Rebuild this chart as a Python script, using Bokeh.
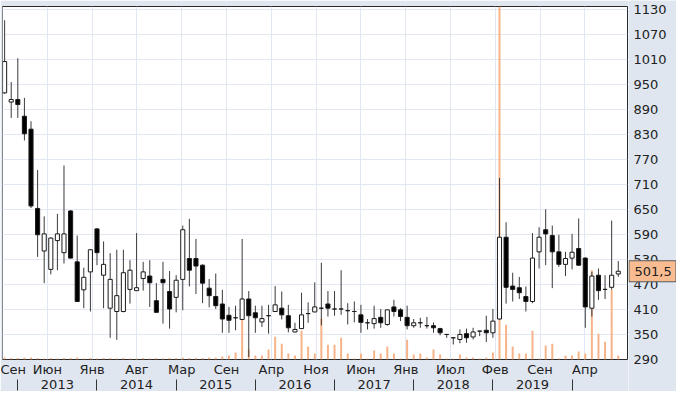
import numpy as np
import pandas as pd
from bokeh.plotting import figure
from bokeh.layouts import row
from bokeh.models import Range1d, LinearAxis, FixedTicker, ColumnDataSource, Grid
from bokeh.core.properties import value
from bokeh.embed import file_html
from bokeh.resources import INLINE

# ---------------- data (monthly candles) ----------------
MONTHS = [str(m) for m in pd.period_range("2012-11", periods=94, freq="M")]

OPEN = [929, 907, 913, 873, 842, 652, 550, 506, 575, 546,
        646, 524, 457, 500, 603, 492, 413, 405, 405, 458,
        455, 484, 490, 431, 482, 453, 439, 482, 532, 532,
        516, 461, 441, 423, 396, 390, 386, 435, 402, 380,
        395, 405, 413, 395, 356, 364, 400, 404, 413, 423,
        411, 411, 407, 405, 397, 378, 376, 391, 374, 416,
        409, 391, 371, 378, 371, 371, 364, 350, 342, 338,
        352, 344, 358, 360, 354, 387, 583, 466, 462, 441,
        429, 548, 601, 587, 548, 518, 533, 556, 533, 413,
        492, 458, 463, 495]
HIGH = [1103, 955, 1012, 917, 861, 744, 633, 583, 639, 755,
        648, 587, 510, 555, 605, 573, 545, 553, 553, 528,
        593, 524, 528, 473, 524, 502, 492, 611, 627, 579,
        518, 483, 496, 457, 416, 419, 579, 454, 419, 419,
        421, 466, 453, 421, 378, 450, 427, 475, 522, 454,
        454, 504, 425, 429, 421, 387, 419, 411, 410, 433,
        413, 419, 387, 390, 392, 379, 366, 351, 343, 362,
        364, 366, 359, 395, 411, 725, 619, 498, 488, 465,
        593, 607, 650, 611, 589, 548, 591, 628, 535, 500,
        508, 492, 623, 526]
LOW = [927, 869, 869, 815, 653, 536, 473, 494, 504, 520,
       532, 428, 413, 405, 516, 413, 342, 337, 403, 424,
       455, 455, 416, 402, 376, 364, 403, 408, 465, 447,
       425, 415, 411, 354, 354, 360, 385, 296, 354, 368,
       352, 404, 386, 355, 355, 363, 378, 403, 372, 393,
       395, 397, 374, 379, 354, 362, 364, 366, 371, 393,
       382, 362, 366, 366, 364, 354, 348, 342, 326, 329,
       330, 338, 346, 332, 342, 386, 424, 429, 435, 405,
       425, 508, 516, 461, 512, 490, 506, 515, 366, 393,
       433, 435, 457, 488]
CLOSE = [1004, 913, 901, 831, 658, 589, 591, 581, 591, 591,
         533, 429, 487, 553, 546, 518, 482, 443, 498, 504,
         462, 500, 474, 403, 474, 411, 480, 601, 504, 514,
         473, 443, 419, 387, 384, 390, 435, 395, 390, 388,
         395, 421, 397, 366, 362, 397, 400, 416, 413, 413,
         411, 411, 407, 405, 379, 378, 388, 378, 409, 405,
         393, 371, 378, 378, 371, 366, 354, 350, 342, 350,
         342, 356, 358, 354, 382, 583, 463, 458, 450, 429,
         533, 583, 591, 548, 518, 532, 547, 516, 416, 490,
         455, 458, 492, 501.5]
VOLUME = [20, 15, 15, 20, 20, 15, 10, 15, 10, 15,
          15, 20, 10, 15, 10, 15, 15, 10, 15, 10,
          10, 15, 10, 15, 10, 15, 15, 20, 15, 15,
          15, 20, 20, 30, 40, 70, 620, 100, 40, 40,
          100, 230, 160, 60, 40, 290, 130, 60, 410, 150,
          150, 220, 60, 10, 60, 10, 90, 60, 130, 60,
          10, 200, 50, 60, 20, 100, 50, 10, 10, 50,
          20, 20, 10, 20, 70, 3600, 350, 130, 60, 60,
          290, 10, 140, 160, 10, 40, 40, 80, 60, 900,
          260, 180, 700, 40]

MONTH_TICK_POS = [-0.30, 6.48, 13.27, 20.06, 26.85, 33.64, 40.42,
                  47.21, 54.0, 60.79, 67.58, 74.36, 81.15, 87.94]
MONTH_TICK_LABELS = ["Сен", "Июн", "Янв", "Авг", "Мар", "Сен", "Апр",
                     "Ноя", "Июн", "Янв", "Июл", "Фев", "Сен", "Апр"]
YEARS = [2013, 2014, 2015, 2016, 2017, 2018, 2019]
SEPARATOR_YEARS = [2013, 2014, 2015, 2016, 2017, 2018, 2019, 2020]
PRICE_TICKS = list(range(290, 1131, 60))
PRICE_TICK_LABELS = [str(t) for t in PRICE_TICKS]
LAST_PRICE_LABEL = "501,5"

# ---------------- layout constants ----------------
TOTAL_H = 391
TOP = 6
BOTTOM = 32
MAIN_W = 628
SIDE_W = 48
Y0, Y1 = 290, 1136
FRAME_H = TOTAL_H - TOP - BOTTOM

FONT = "DejaVu Sans"
TXT = "#222222"
BG = "#dfe6f0"
GRID = "#e2e8f2"

# ---------------- derived ----------------
x = np.arange(len(MONTHS))
o = np.array(OPEN, dtype=float)
c = np.array(CLOSE, dtype=float)
src = ColumnDataSource(dict(
    x=x, h=HIGH, l=LOW,
    top=np.maximum(o, c), bot=np.minimum(o, c),
    fill=np.where(c > o, "white", "black"),
    vol=VOLUME,
))
year_pos = [float(MONTHS.index(f"{y}-07")) for y in YEARS]
sep_pos = [float(MONTHS.index(f"{y}-01")) for y in SEPARATOR_YEARS]

# ---------------- main chart ----------------
p = figure(width=MAIN_W, height=TOTAL_H, output_backend="svg", toolbar_location=None,
           x_range=Range1d(-0.32, 94.4), y_range=Range1d(Y0, Y1),
           y_axis_location=None,
           min_border_left=2, min_border_top=TOP, min_border_right=1, min_border_bottom=BOTTOM)
p.background_fill_color = "white"
p.border_fill_color = BG
p.outline_line_color = "#2a2a2a"
p.outline_line_width = 1

p.extra_y_ranges = {"vol": Range1d(0, 3560)}

p.vbar(x="x", top="vol", bottom=0, width=0.3, y_range_name="vol",
       fill_color="#f7b388", line_color=None, source=src)
p.segment(x0="x", y0="l", x1="x", y1="h", line_color="#3a3a3a", line_width=1, source=src)
p.vbar(x="x", top="top", bottom="bot", width=0.62, fill_color="fill",
       line_color="#1a1a1a", line_width=1, source=src)

# month axis
xa = p.xaxis[0]
xa.ticker = FixedTicker(ticks=MONTH_TICK_POS)
xa.major_label_overrides = {pos: lab for pos, lab in zip(MONTH_TICK_POS, MONTH_TICK_LABELS)}
xa.axis_line_color = None
xa.major_tick_out = 0
xa.major_tick_in = 0
xa.minor_tick_out = 0
xa.minor_tick_in = 0
xa.major_label_standoff = 2
xa.major_label_text_font = FONT
xa.major_label_text_font_size = "13px"
xa.major_label_text_color = TXT

# year axis
yr = LinearAxis(ticker=FixedTicker(ticks=year_pos, minor_ticks=sep_pos))
yr.major_label_overrides = {pos: str(y) for pos, y in zip(year_pos, YEARS)}
yr.axis_line_color = None
yr.major_tick_out = 0
yr.major_tick_in = 0
yr.minor_tick_out = 11
yr.minor_tick_in = 0
yr.minor_tick_line_color = "#333333"
yr.major_label_standoff = -11
yr.major_label_text_font = FONT
yr.major_label_text_font_size = "13px"
yr.major_label_text_color = TXT
p.add_layout(yr, "below")

p.xgrid.ticker = FixedTicker(ticks=MONTH_TICK_POS)
p.xgrid.grid_line_color = GRID
if len(p.ygrid) == 0:
    p.add_layout(Grid(dimension=1, ticker=FixedTicker(ticks=PRICE_TICKS)), "center")
p.ygrid.ticker = FixedTicker(ticks=PRICE_TICKS)
p.ygrid.grid_line_color = GRID

# ---------------- right-hand price scale with last-price tag ----------------
can_unalign = "frame_align" in p.properties()
if can_unalign:
    ppu = FRAME_H / (Y1 - Y0)
    side_range = Range1d(Y0 - BOTTOM / ppu, Y1 + TOP / ppu)
else:
    side_range = p.y_range

s = figure(width=SIDE_W, height=TOTAL_H, output_backend="svg", toolbar_location=None,
           x_range=Range1d(0, SIDE_W), y_range=side_range,
           x_axis_location=None, y_axis_location=None,
           min_border_left=0, min_border_right=0, min_border_top=0, min_border_bottom=0)
if can_unalign:
    p.frame_align = False
    s.frame_align = False
s.background_fill_color = BG
s.border_fill_color = BG
s.outline_line_color = None
s.grid.visible = False

s.text(x=5, y=PRICE_TICKS, text=PRICE_TICK_LABELS, text_font=value(FONT),
       text_font_size="13px", text_color=TXT, text_baseline="middle", text_align="left")
s.rect(x=SIDE_W / 2, y=CLOSE[-1], width=SIDE_W - 1, height=21, height_units="screen",
       fill_color="#f8bc90", line_color="#5a5a5a", line_width=1)
s.text(x=6, y=[CLOSE[-1]], text=[LAST_PRICE_LABEL], text_font=value(FONT),
       text_font_size="13px", text_color=TXT, text_baseline="middle", text_align="left")

layout = row(p, s, spacing=0)
open("out.html", "w").write(file_html(layout, INLINE))
